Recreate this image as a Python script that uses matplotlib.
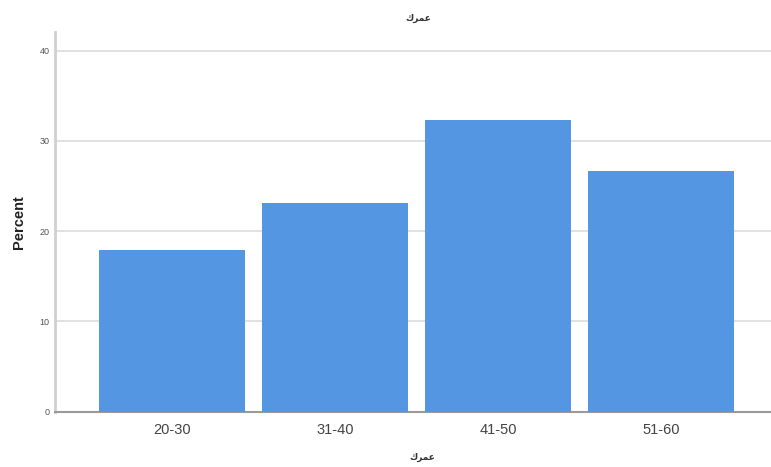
import matplotlib
matplotlib.use("Agg")
import matplotlib.pyplot as plt

categories = ["20-30", "31-40", "41-50", "51-60"]
percent = [17.9, 23.1, 32.3, 26.7]
yticks = [0, 10, 20, 30, 40]
# Arabic "عمرك" written with contextual presentation forms (visual order) so it renders joined
title_text = "\uFED9\uFEAE\uFEE4\uFECB"
ylabel_text = "Percent"

plt.rcParams['font.family'] = ['Liberation Sans', 'DejaVu Sans']

fig = plt.figure(figsize=(7.71, 4.67), dpi=100)
ax = fig.add_axes([55/771, 1-411.5/467, 1-55/771, (411.5-32)/467])

x = list(range(len(categories)))
ax.bar(x, percent, width=0.896, color="#5596e3", zorder=3)

ax.set_xlim(-0.718, 3.675)
ax.set_ylim(0, 42.05)
ax.set_yticks(yticks)
ax.set_yticklabels([str(v) for v in yticks], fontsize=6.5, color="#555555")
ax.set_xticks(x)
ax.set_xticklabels(categories, fontsize=10.5, color="#444444")
ax.tick_params(axis='y', length=0, pad=4)
ax.tick_params(axis='x', length=0, pad=8)

ax.grid(axis='y', color="#dedede", linewidth=1.3, zorder=0)
for s in ["top", "right"]:
    ax.spines[s].set_visible(False)
ax.spines["left"].set_color("#d0d0d0")
ax.spines["left"].set_linewidth(2)
ax.spines["bottom"].set_color("#9a9a9a")
ax.spines["bottom"].set_linewidth(1.5)

ax.set_ylabel(ylabel_text, fontsize=10.5, fontweight='bold', color="#222222", labelpad=10)
fig.text(418/771, 1-18/467, title_text, ha='center', va='center', fontsize=6.5,
         fontweight='bold', color="#333333", family=['DejaVu Sans'])
fig.text(422/771, 1-457/467, title_text, ha='center', va='center', fontsize=6.5,
         fontweight='bold', color="#333333", family=['DejaVu Sans'])

fig.savefig("out.png", dpi=100)
